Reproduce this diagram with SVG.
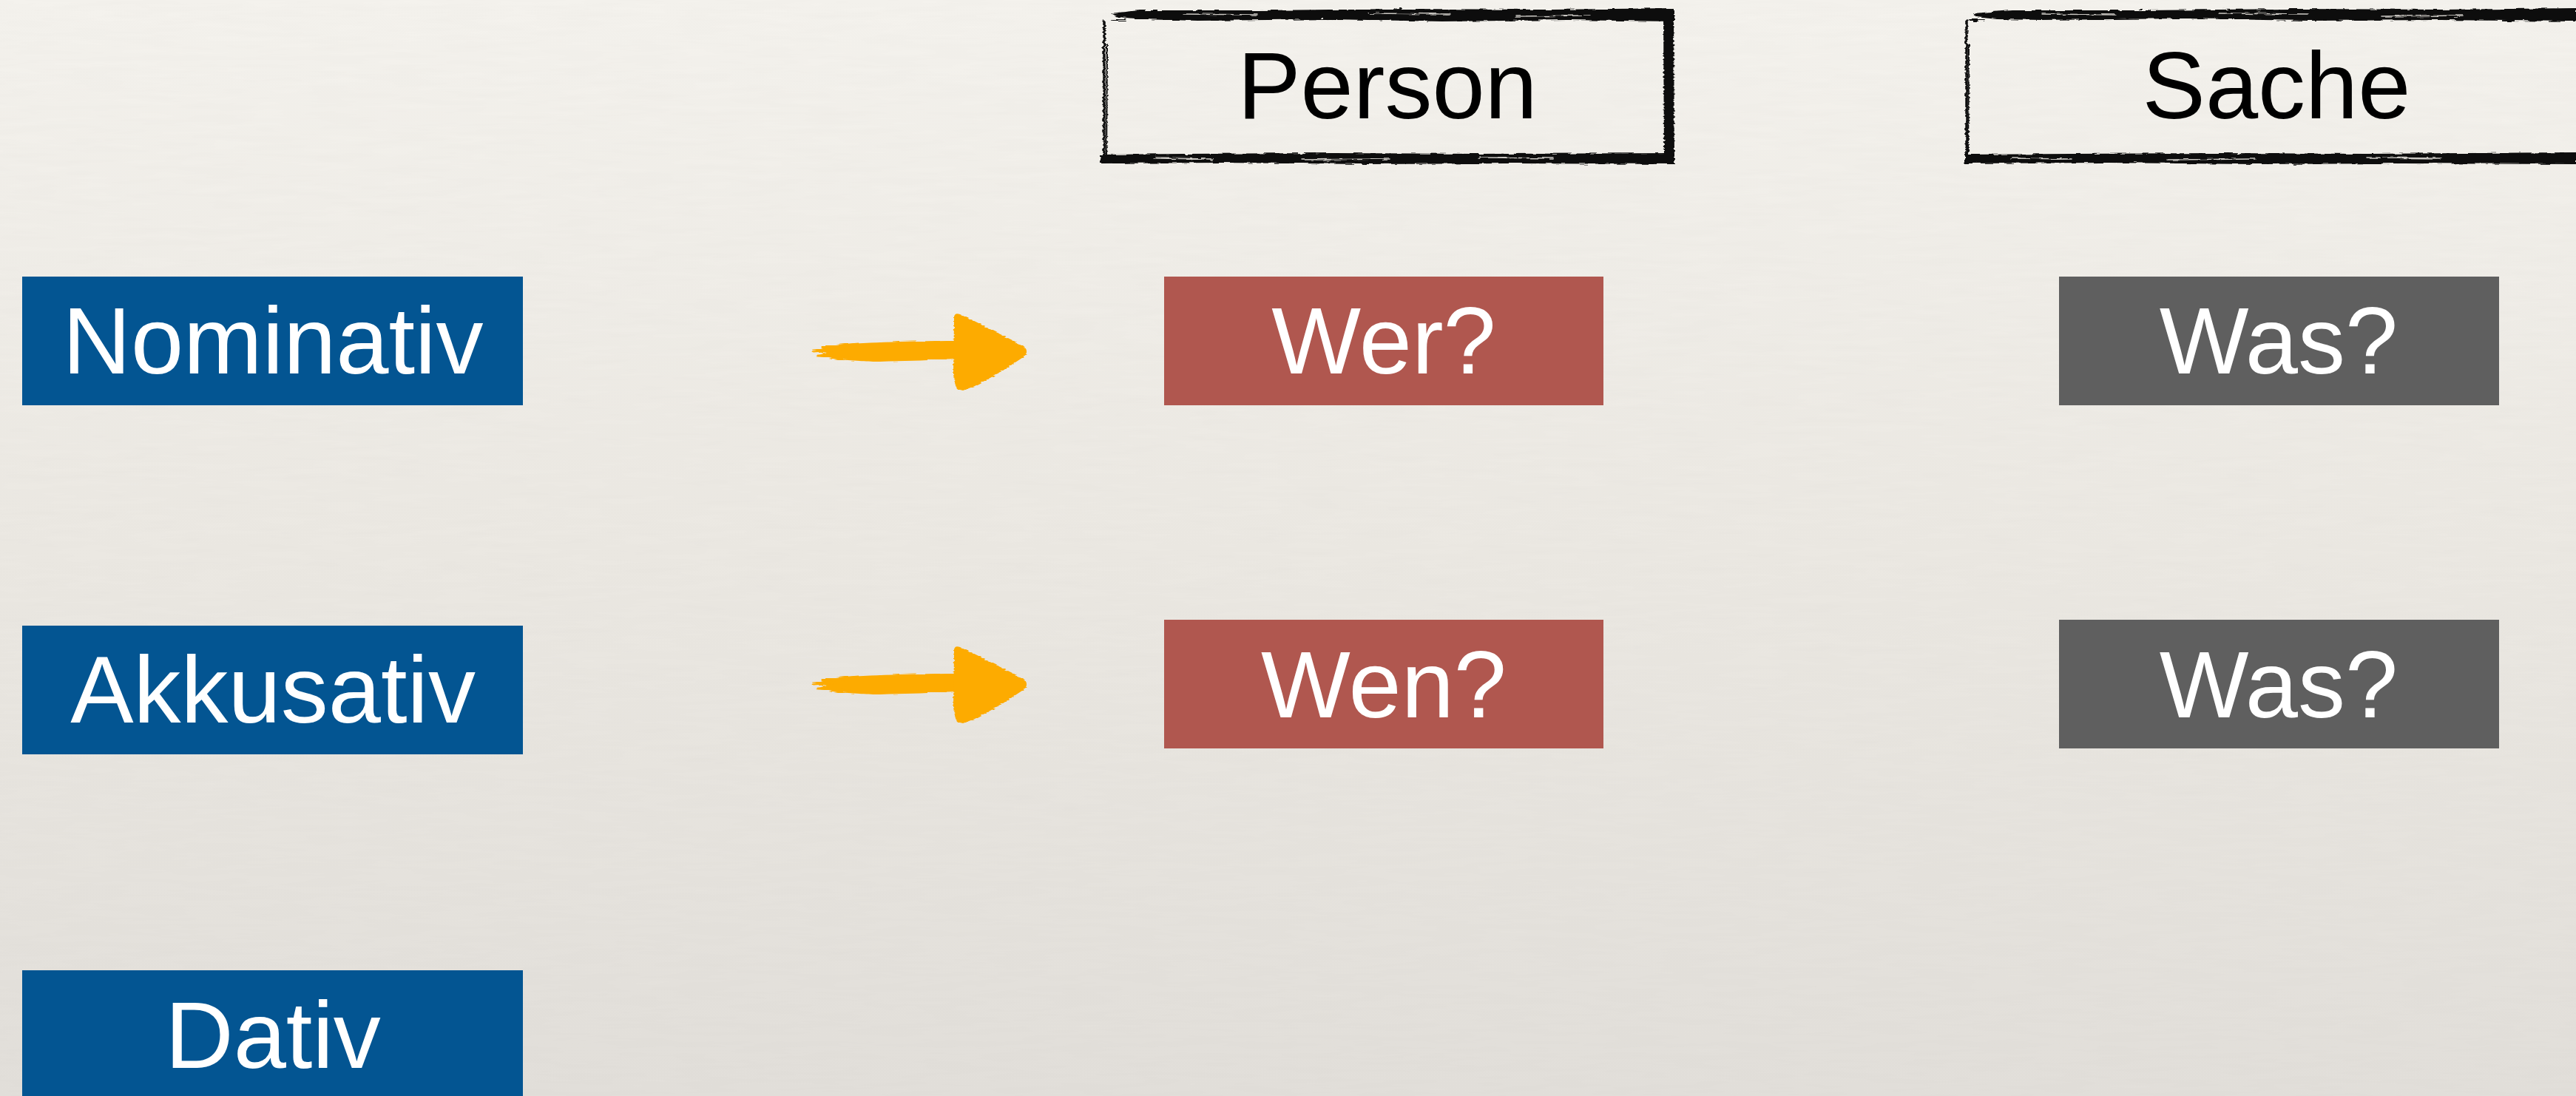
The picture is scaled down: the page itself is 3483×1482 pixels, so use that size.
<svg xmlns="http://www.w3.org/2000/svg" width="3483" height="1482" viewBox="0 0 3483 1482">
  <defs>
    <linearGradient id="paper" x1="0" y1="0" x2="0" y2="1">
      <stop offset="0" stop-color="#f5f3ee"/>
      <stop offset="0.5" stop-color="#ece9e3"/>
      <stop offset="1" stop-color="#e2dfda"/>
    </linearGradient>
    <filter id="grain" x="0" y="0" width="100%" height="100%">
      <feTurbulence type="fractalNoise" baseFrequency="0.012 0.12" numOctaves="3" seed="4" result="n"/>
      <feColorMatrix in="n" type="matrix" values="0 0 0 0 0.55  0 0 0 0 0.53  0 0 0 0 0.5  0 0 0 0.09 0"/>
    </filter>
    <filter id="rough" x="-2%" y="-20%" width="104%" height="140%">
      <feTurbulence type="fractalNoise" baseFrequency="0.06 0.35" numOctaves="2" seed="7" result="t"/>
      <feDisplacementMap in="SourceGraphic" in2="t" scale="5" xChannelSelector="R" yChannelSelector="G"/>
    </filter>
    <filter id="brush" x="-5%" y="-10%" width="110%" height="120%">
      <feTurbulence type="fractalNoise" baseFrequency="0.03 0.5" numOctaves="2" seed="3" result="t"/>
      <feDisplacementMap in="SourceGraphic" in2="t" scale="4" xChannelSelector="R" yChannelSelector="G"/>
    </filter>
  </defs>
  <style>
    .lbl { font-family: "Liberation Sans", Arial, Helvetica, sans-serif; font-size: 128px; text-anchor: middle; }
    .w { fill: #ffffff; }
    .k { fill: #000000; }
    .case { fill: #035592; }
    .pers { fill: #b0574f; }
    .sach { fill: #5f5f5f; }
    .ink { fill: #0a0a0a; }
    .inkl { stroke: #0a0a0a; fill: none; stroke-linecap: round; }
    .gap { stroke: #eeebe5; fill: none; stroke-linecap: round; opacity: 0.85; }
    .arr { fill: #fdab00; }
    .arrs { stroke: #fdab00; fill: none; stroke-linecap: round; }
  </style>

  <rect x="0" y="0" width="3483" height="1482" fill="url(#paper)"/>
  <rect x="0" y="0" width="3483" height="1482" filter="url(#grain)"/>

  <g id="header-person">
    <g filter="url(#rough)">
      <polygon class="ink" points="1502,18 1540,14 1700,14 1900,12 2100,13 2264,11 2264,29 2120,27 1950,29 1800,26 1620,28 1545,26 1512,23"/>
      <path class="inkl" d="M1503,27 L1522,27" stroke-width="2"/>
      <path class="inkl" d="M1493,28 L1493,219" stroke-width="3.5"/>
      <path class="inkl" d="M1497,60 L1496,215" stroke-width="2"/>
      <polygon class="ink" points="2249,13 2263,12 2264,222 2250,221"/>
      <polygon class="ink" points="1488,209 1600,208 1800,207 2000,208 2264,207 2264,222 2050,221 1850,222 1650,220 1488,221"/>
      <path class="gap" d="M1600,19 L1700,20 M1850,18 L1960,19 M2050,22 L2150,21 M1560,214 L1640,215 M1760,216 L1880,215 M2000,213 L2100,214" stroke-width="1.5"/>
    </g>
    <text class="lbl k" x="1876" y="160">Person</text>
  </g>

  <g id="header-sache">
    <g filter="url(#rough)">
      <polygon class="ink" points="2668,18 2720,14 2900,14 3100,12 3300,13 3483,11 3483,29 3300,27 3120,28 2950,25 2760,27 2700,26 2672,23"/>
      <path class="inkl" d="M2662,27 L2682,27" stroke-width="2"/>
      <path class="inkl" d="M2659,28 L2659,219" stroke-width="3.5"/>
      <path class="inkl" d="M2662,60 L2661,215" stroke-width="2"/>
      <polygon class="ink" points="2657,209 2800,208 3000,207 3200,208 3483,206 3483,222 3250,221 3050,222 2850,220 2657,221"/>
      <path class="gap" d="M2760,19 L2860,20 M3000,18 L3120,19 M3220,22 L3330,21 M2720,214 L2800,215 M2930,216 L3050,215 M3200,213 L3300,214" stroke-width="1.5"/>
    </g>
    <text class="lbl k" x="3078" y="160">Sache</text>
  </g>

  <g id="node-nominativ">
    <rect class="case" x="30" y="374" width="677" height="174"/>
    <text class="lbl w" x="369" y="505">Nominativ</text>
  </g>
  <g id="node-akkusativ">
    <rect class="case" x="30" y="846" width="677" height="174"/>
    <text class="lbl w" x="369" y="977">Akkusativ</text>
  </g>
  <g id="node-dativ">
    <rect class="case" x="30" y="1312" width="677" height="180"/>
    <text class="lbl w" x="369" y="1444">Dativ</text>
  </g>

  <g id="node-wer">
    <rect class="pers" x="1574" y="374" width="594" height="174"/>
    <text class="lbl w" x="1871" y="505">Wer?</text>
  </g>
  <g id="node-wen">
    <rect class="pers" x="1574" y="838" width="594" height="174"/>
    <text class="lbl w" x="1871" y="970">Wen?</text>
  </g>

  <g id="node-was-1">
    <rect class="sach" x="2784" y="374" width="595" height="174"/>
    <text class="lbl w" x="3081" y="505">Was?</text>
  </g>
  <g id="node-was-2">
    <rect class="sach" x="2784" y="838" width="595" height="174"/>
    <text class="lbl w" x="3081" y="970">Was?</text>
  </g>

  <g id="connectors">
    <g id="arrow-nominativ-wer" filter="url(#brush)">
      <path class="arr" d="M1292,461 C1240,461 1170,463 1125,467 L1102,474 L1118,477 L1103,481 L1132,486 C1160,488 1175,489 1190,489 C1230,488 1260,487 1293,486 Z"/>
      <path class="arrs" d="M1099,475 L1140,472 M1106,481 L1150,483 M1112,469 L1160,465" stroke-width="3"/>
      <path class="arr" d="M1290,432 Q1289,422 1298,425 L1383,467 Q1392,474 1385,482 L1350,505 L1318,522 L1302,528 L1294,526 Q1290,518 1289,505 Z"/>
    </g>
    <g id="arrow-akkusativ-wen" filter="url(#brush)" transform="translate(0,450)">
      <path class="arr" d="M1292,461 C1240,461 1170,463 1125,467 L1102,474 L1118,477 L1103,481 L1132,486 C1160,488 1175,489 1190,489 C1230,488 1260,487 1293,486 Z"/>
      <path class="arrs" d="M1099,475 L1140,472 M1106,481 L1150,483 M1112,469 L1160,465" stroke-width="3"/>
      <path class="arr" d="M1290,432 Q1289,422 1298,425 L1383,467 Q1392,474 1385,482 L1350,505 L1318,522 L1302,528 L1294,526 Q1290,518 1289,505 Z"/>
    </g>
  </g>
</svg>
